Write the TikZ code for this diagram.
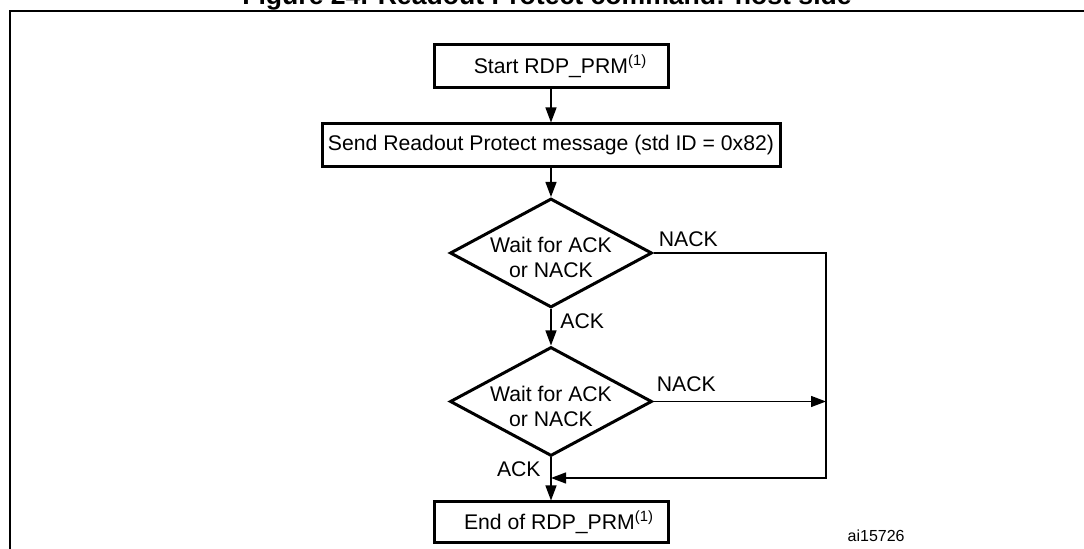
\documentclass[tikz,border=0pt]{standalone}
\usepackage{fontspec}
\setmainfont{Liberation Sans}
\usetikzlibrary{shapes.geometric,arrows.meta}

\tikzset{
  box/.style={draw, line width=1.5pt, minimum width=117pt, minimum height=21.5pt, inner sep=0pt, font=\fontsize{10.6}{12.5}\selectfont},
  waitbox/.style={diamond, aspect=1.85, draw, line width=1.5pt, minimum width=101pt, minimum height=54.5pt, inner sep=-4pt, text height=25pt, text depth=0pt, align=center, font=\fontsize{10.6}{12.5}\selectfont},
  lbl/.style={inner sep=0pt, font=\fontsize{10.6}{12.5}\selectfont},
  flow/.style={line width=0.65pt, -{Triangle[length=7.5pt,width=5.5pt]}},
}

\begin{document}
\begin{tikzpicture}[x=0.5pt,y=-0.5pt]
  \useasboundingbox (0,0) rectangle (1084,549);
  \clip (0,0) rectangle (1084,549);

  %枠とタイトル
  \draw[line width=1.3pt] (10,600) |- (1100,11);
  \node[anchor=base, inner sep=0pt, font=\bfseries\fontsize{13.3}{16}\selectfont] (title) at (547,5) {Figure 24. Readout Protect command: host side};

  %箱
  \node[box] (start) at (551,66.5) {\hspace*{9.5pt}Start RDP\_PRM\textsuperscript{(1)}};
  \node[box, minimum width=229pt] (send) at (551,145.5) {Send Readout Protect message (std ID = 0x82)};
  \node[waitbox] (wait1) at (551,253) {Wait for ACK\\or NACK};
  \node[waitbox] (wait2) at (551,401.5) {Wait for ACK\\or NACK};
  \node[box, minimum height=20.5pt] (end) at (551,522.5) {\hspace*{8pt}End of RDP\_PRM\textsuperscript{(1)}};

  %矢印
  \coordinate (corner) at (826,478);
  \coordinate (join) at (551,478);
  \draw[flow] (start) -- (send);
  \draw[flow] (send) -- (wait1);
  \draw[flow] (wait1) -- (wait2);
  \draw[flow] (wait2) -- (end);
  \draw[flow] (wait1.east) -| (corner) -- (join);
  \draw[flow] (wait2.east) -- (wait2.east -| corner);

  %ラベル
  \node[lbl, anchor=base west] (nack1) at ([xshift=2.5pt,yshift=3pt]wait1.east) {NACK};
  \node[lbl, anchor=base west] (ack1) at ([xshift=4.5pt,yshift=-10pt]wait1.south) {ACK};
  \node[lbl, anchor=base west] (nack2) at ([xshift=1.5pt,yshift=5pt]wait2.east) {NACK};
  \node[lbl, anchor=base east] (ack2) at ([xshift=-5pt,yshift=-9.5pt]wait2.south) {ACK};
  \node[anchor=base east, inner sep=0pt, font=\fontsize{8}{10}\selectfont] (ref) at (905,542) {ai15726};
\end{tikzpicture}
\end{document}
